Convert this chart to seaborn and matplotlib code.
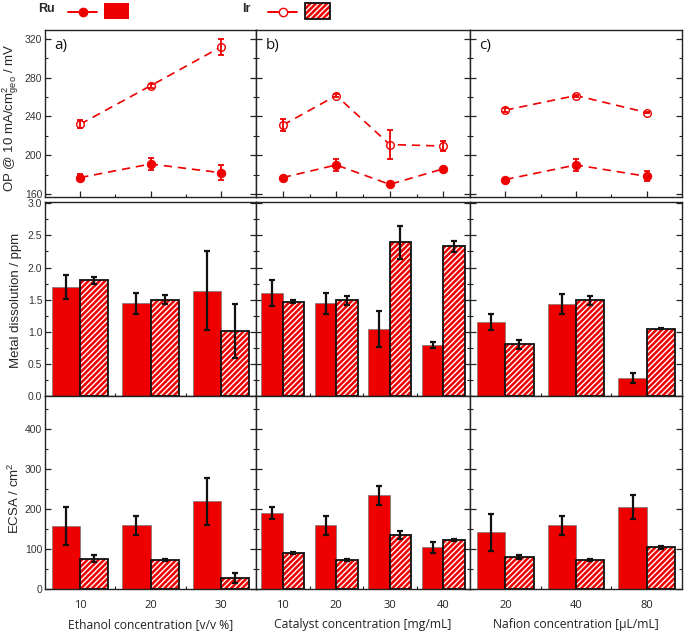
import numpy as np
import pandas as pd
import seaborn as sns
import matplotlib
matplotlib.use('Agg')
import matplotlib.pyplot as plt
from matplotlib.patches import Rectangle
from matplotlib.lines import Line2D

# ---------------- data ----------------
labels_a = ['10', '20', '30']
labels_b = ['10', '20', '30', '40']
labels_c = ['20', '40', '80']
xlabels = ['Ethanol concentration [v/v %]', 'Catalyst concentration [mg/mL]',
           'Nafion concentration [\u03bcL/mL]']
panel_tags = ['a)', 'b)', 'c)']

# Overpotential @ 10 mA/cm2 (mV)
op_ru_a = [177, 191, 182];            op_ru_a_err = [3.7, 5.8, 7.5]
op_ir_a = [232, 271.5, 311.5];        op_ir_a_err = [4, 2, 8.7]
op_ru_b = [177, 190, 170, 186];       op_ru_b_err = [1, 6, 1, 1]
op_ir_b = [231, 261.5, 211, 209.5];   op_ir_b_err = [6.5, 2, 15, 5.3]
op_ru_c = [175, 190, 178.3];          op_ru_c_err = [2, 6, 5]
op_ir_c = [246.5, 261.5, 244];        op_ir_c_err = [2, 1, 1]

# Metal dissolution (ppm)
md_ru_a = [1.70, 1.44, 1.64];         md_ru_a_err = [0.19, 0.17, 0.62]
md_ir_a = [1.80, 1.50, 1.01];         md_ir_a_err = [0.05, 0.075, 0.42]
md_ru_b = [1.60, 1.44, 1.045, 0.79];  md_ru_b_err = [0.2, 0.16, 0.28, 0.05]
md_ir_b = [1.47, 1.49, 2.39, 2.33];   md_ir_b_err = [0.02, 0.07, 0.26, 0.083]
md_ru_c = [1.155, 1.435, 0.276];      md_ru_c_err = [0.12, 0.16, 0.075]
md_ir_c = [0.806, 1.49, 1.05];        md_ir_c_err = [0.07, 0.07, 0.01]

# ECSA (cm2)
ec_ru_a = [158, 159, 219];            ec_ru_a_err = [48, 24, 58]
ec_ir_a = [76, 72, 27];               ec_ir_a_err = [9, 2, 12]
ec_ru_b = [190, 159, 234, 104];       ec_ru_b_err = [14, 24, 23, 14]
ec_ir_b = [90, 72.5, 134, 123];       ec_ir_b_err = [1.5, 2, 10, 3]
ec_ru_c = [142, 159, 205];            ec_ru_c_err = [46, 24, 31]
ec_ir_c = [80, 72, 104];              ec_ir_c_err = [5, 2, 3]

RED = '#EE0000'
W, H = 685, 632

sns.set_theme(style='white')
plt.rcParams['font.family'] = ['Liberation Sans', 'DejaVu Sans']
plt.rcParams['mathtext.fontset'] = 'custom'
plt.rcParams['mathtext.rm'] = 'Liberation Sans'
plt.rcParams['mathtext.it'] = 'Liberation Sans:italic'
plt.rcParams['hatch.linewidth'] = 1.0

fig = plt.figure(figsize=(W / 100, H / 100), dpi=100)
fig.patch.set_facecolor('white')


def rect(x0, y0, x1, y1):
    return [x0 / W, 1 - y1 / H, (x1 - x0) / W, (y1 - y0) / H]


cols = [(45, 256), (256, 470), (470, 682)]
rows = [(30, 197), (202, 396), (396, 589)]

op_data = [(op_ru_a, op_ru_a_err, op_ir_a, op_ir_a_err),
           (op_ru_b, op_ru_b_err, op_ir_b, op_ir_b_err),
           (op_ru_c, op_ru_c_err, op_ir_c, op_ir_c_err)]
md_data = [(md_ru_a, md_ru_a_err, md_ir_a, md_ir_a_err),
           (md_ru_b, md_ru_b_err, md_ir_b, md_ir_b_err),
           (md_ru_c, md_ru_c_err, md_ir_c, md_ir_c_err)]
ec_data = [(ec_ru_a, ec_ru_a_err, ec_ir_a, ec_ir_a_err),
           (ec_ru_b, ec_ru_b_err, ec_ir_b, ec_ir_b_err),
           (ec_ru_c, ec_ru_c_err, ec_ir_c, ec_ir_c_err)]
all_labels = [labels_a, labels_b, labels_c]


def style_axes(ax, n, col, ylim, major, minor, show_xlabels):
    ax.set_xlim(-0.5, n - 0.5)
    ax.set_ylim(*ylim)
    ax.set_xticks(np.arange(n))
    ax.set_xticks(np.arange(n - 1) + 0.5, minor=True)
    ax.set_yticks(major)
    ax.set_yticks(minor, minor=True)
    ax.tick_params(axis='both', which='both', direction='in', left=True, right=True,
                   bottom=True, top=False, colors='#222222', labelcolor='#333333')
    ax.tick_params(axis='both', which='major', length=4, width=0.9)
    ax.tick_params(axis='both', which='minor', length=2.5, width=0.8)
    ax.tick_params(axis='y', labelsize=7.5, pad=2)
    for s in ax.spines.values():
        s.set_color('#222222')
        s.set_linewidth(1.0)
    if col != 0:
        ax.set_yticklabels([])
    if not show_xlabels:
        ax.set_xticklabels([])
    ax.set_xlabel('')
    ax.set_ylabel('')


def draw_bars(ax, labels, ru, ru_err, ir, ir_err):
    n = len(labels)
    df = pd.DataFrame({'conc': labels * 2,
                       'metal': ['Ru'] * n + ['Ir'] * n,
                       'val': list(ru) + list(ir)})
    sns.barplot(data=df, x='conc', y='val', hue='metal', order=labels,
                hue_order=['Ru', 'Ir'], palette={'Ru': RED, 'Ir': RED},
                saturation=1, width=0.8, gap=0, errorbar=None, legend=False, ax=ax)
    patches = list(ax.patches)
    errs = list(ru_err) + list(ir_err)
    xs, ys = [], []
    for i, p in enumerate(patches):
        xs.append(p.get_x() + p.get_width() / 2)
        ys.append(p.get_height())
        if i < n:
            p.set_edgecolor('#777777')
            p.set_linewidth(0.5)
        else:
            p.set_hatch('//////')
            p.set_edgecolor('white')
            p.set_linewidth(0)
            ax.add_patch(Rectangle((p.get_x(), p.get_y()), p.get_width(), p.get_height(),
                                   fill=False, edgecolor='#111111', linewidth=1.3, zorder=3))
    ax.errorbar(xs, ys, yerr=errs, fmt='none', ecolor='#111111', elinewidth=1.6,
                capsize=2.5, capthick=1.6, zorder=4)


for col in range(3):
    labels = all_labels[col]
    n = len(labels)
    x = np.arange(n)

    # --- top row: overpotential ---
    ax = fig.add_axes(rect(cols[col][0], rows[0][0], cols[col][1], rows[0][1]))
    ru, ru_e, ir, ir_e = op_data[col]
    sns.lineplot(x=x, y=ir, ax=ax, color=RED, linestyle=(0, (5, 3.5)), linewidth=1.2,
                 marker='o', markersize=5.5, markerfacecolor='white',
                 markeredgecolor=RED, markeredgewidth=1.0)
    ax.errorbar(x, ir, yerr=ir_e, fmt='none', ecolor=RED, elinewidth=1.3, capsize=2.4,
                capthick=1.3)
    sns.lineplot(x=x, y=ru, ax=ax, color=RED, linestyle=(0, (5, 3.5)), linewidth=1.2,
                 marker='o', markersize=6, markerfacecolor=RED,
                 markeredgecolor=RED)
    ax.errorbar(x, ru, yerr=ru_e, fmt='none', ecolor=RED, elinewidth=1.3, capsize=2.4,
                capthick=1.3)
    style_axes(ax, n, col, (157, 329), [160, 200, 240, 280, 320],
               [180, 220, 260, 300], False)
    ax.text(0.045, 0.95, panel_tags[col], transform=ax.transAxes, ha='left', va='top',
            fontsize=11, family=['Open Sans', 'DejaVu Sans'], color='#111111')
    if col == 0:
        ax.set_ylabel(r'OP @ 10 mA/cm$^{2}_{\rm geo}$ / mV', fontsize=9.5)
        ax.yaxis.set_label_coords(-0.115, 0.473)

    # --- middle row: metal dissolution ---
    ax = fig.add_axes(rect(cols[col][0], rows[1][0], cols[col][1], rows[1][1]))
    ru, ru_e, ir, ir_e = md_data[col]
    draw_bars(ax, labels, ru, ru_e, ir, ir_e)
    style_axes(ax, n, col, (0, 3.02), [0, 0.5, 1.0, 1.5, 2.0, 2.5, 3.0],
               [0.25, 0.75, 1.25, 1.75, 2.25, 2.75], False)
    if col == 0:
        ax.set_yticklabels(['0.0', '0.5', '1.0', '1.5', '2.0', '2.5', '3.0'])
        ax.set_ylabel('Metal dissolution / ppm', fontsize=9.5)
        ax.yaxis.set_label_coords(-0.11, 0.495)

    # --- bottom row: ECSA ---
    ax = fig.add_axes(rect(cols[col][0], rows[2][0], cols[col][1], rows[2][1]))
    ru, ru_e, ir, ir_e = ec_data[col]
    draw_bars(ax, labels, ru, ru_e, ir, ir_e)
    style_axes(ax, n, col, (0, 482), [0, 100, 200, 300, 400],
               [50, 150, 250, 350, 450], True)
    ax.set_xticklabels(labels, fontsize=8, family=['Open Sans', 'DejaVu Sans'],
                       color='#222222')
    ax.tick_params(axis='x', pad=8)
    ax.set_xlabel(xlabels[col], fontsize=8.7, family=['Open Sans', 'DejaVu Sans'],
                  color='#222222', labelpad=5)
    if col == 0:
        ax.set_ylabel(r'ECSA / cm$^{2}$', fontsize=9.5)
        ax.yaxis.set_label_coords(-0.11, 0.47)

# ---------------- legend (figure level) ----------------
fig.text(46 / W, 1 - 9 / H, 'Ru', fontsize=9, fontweight='bold', ha='center', va='center')
fig.text(246 / W, 1 - 9 / H, 'Ir', fontsize=9, fontweight='bold', ha='center', va='center')
fig.add_artist(Line2D([68 / W, 97 / W], [1 - 11.5 / H, 1 - 11.5 / H], color=RED, lw=1.4,
                      transform=fig.transFigure))
fig.add_artist(Line2D([83 / W], [1 - 11.5 / H], color=RED, marker='o', markersize=6,
                      transform=fig.transFigure))
fig.add_artist(Rectangle((104 / W, 1 - 19 / H), 25 / W, 16 / H, facecolor=RED,
                         edgecolor='none', transform=fig.transFigure))
fig.add_artist(Line2D([268 / W, 297 / W], [1 - 11.5 / H, 1 - 11.5 / H], color=RED, lw=1.4,
                      transform=fig.transFigure))
fig.add_artist(Line2D([283 / W], [1 - 11.5 / H], color=RED, marker='o', markersize=6,
                      markerfacecolor='white', markeredgecolor=RED,
                      transform=fig.transFigure))
fig.add_artist(Rectangle((305 / W, 1 - 19 / H), 25 / W, 16 / H, facecolor=RED,
                         edgecolor='white', hatch='//////', linewidth=0,
                         transform=fig.transFigure))
fig.add_artist(Rectangle((305 / W, 1 - 19 / H), 25 / W, 16 / H, fill=False,
                         edgecolor='#111111', linewidth=1.3, transform=fig.transFigure))

fig.savefig('out.png', dpi=100)
